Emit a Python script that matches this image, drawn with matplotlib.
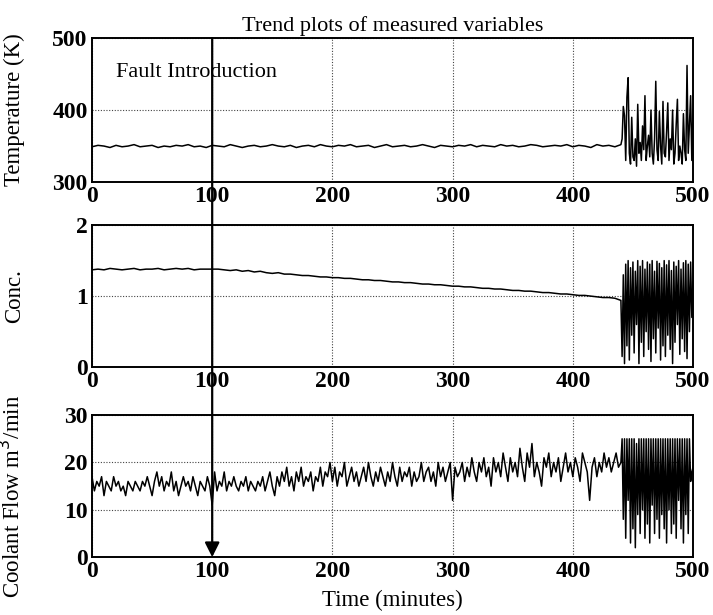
# Trend plots of measured variables: temperature, concentration, coolant flow

import numpy as np
import matplotlib.pyplot as plt

plt.rcParams['font.family'] = ['Liberation Serif', 'DejaVu Serif']

# --- data ---
# before the fault: every 5 min (temperature, conc.) / every 2 min (coolant)
# after the fault: every minute from 441 to 500
t_slow = np.arange(0, 441, 5)
t_cool = np.arange(0, 441, 2)
t_fault = np.arange(441, 501, 1)

temp_before = [
    349, 351, 350, 348, 351, 349, 350, 352, 349, 350, 351, 348, 350, 349, 351, 350, 352, 349, 350, 348,
    351, 350, 349, 352, 350, 348, 350, 351, 349, 350, 352, 350, 349, 351, 348, 350, 351, 349, 352, 350,
    349, 351, 350, 352, 349, 350, 351, 348, 350, 352, 349, 350, 351, 349, 350, 352, 350, 348, 351, 350,
    349, 351, 350, 352, 349, 351, 350, 349, 352, 350, 351, 349, 350, 352, 351, 349, 350, 351, 350, 352,
    349, 351, 350, 348, 352, 350, 351, 349, 352,
]
temp_after = [
    360, 405, 392, 330, 418, 445, 340, 325, 390, 335, 330, 360, 322, 408, 340, 355, 330, 378, 345, 420,
    330, 350, 365, 335, 400, 340, 325, 360, 440, 345, 330, 398, 350, 325, 412, 340, 335, 370, 410, 330,
    360, 345, 400, 325, 340, 380, 415, 330, 350, 340, 325, 395, 345, 330, 462, 340, 380, 420, 330, 400,
]

conc_before = [
    1.37, 1.38, 1.37, 1.39, 1.38, 1.37, 1.38, 1.39, 1.37, 1.38, 1.38, 1.39, 1.37, 1.38, 1.39, 1.38, 1.39, 1.37, 1.38, 1.38,
    1.38, 1.38, 1.37, 1.36, 1.37, 1.35, 1.36, 1.34, 1.35, 1.33, 1.32, 1.33, 1.31, 1.31, 1.30, 1.29, 1.29, 1.28, 1.27, 1.27,
    1.26, 1.26, 1.25, 1.25, 1.24, 1.23, 1.23, 1.22, 1.22, 1.21, 1.20, 1.20, 1.19, 1.19, 1.18, 1.17, 1.17, 1.16, 1.16, 1.15,
    1.14, 1.14, 1.13, 1.13, 1.12, 1.11, 1.11, 1.10, 1.10, 1.09, 1.08, 1.08, 1.07, 1.07, 1.06, 1.05, 1.05, 1.04, 1.03, 1.03,
    1.02, 1.01, 1.01, 1.00, 0.99, 0.98, 0.98, 0.97, 0.94,
]
conc_after = [
    0.15, 1.30, 0.05, 1.45, 0.30, 1.50, 0.10, 1.40, 0.45, 1.48, 0.20, 1.35, 0.60, 1.50, 0.05, 1.42, 0.35, 1.50, 0.15, 1.38,
    0.50, 1.48, 0.25, 1.45, 0.08, 1.50, 0.40, 1.35, 0.20, 1.49, 0.55, 1.46, 0.10, 1.40, 0.30, 1.50, 0.15, 1.44, 0.45, 1.50,
    0.25, 1.36, 0.05, 1.48, 0.35, 1.42, 0.60, 1.50, 0.18, 1.38, 0.40, 1.47, 0.22, 1.50, 0.12, 1.45, 0.50, 1.48, 0.70, 1.20,
]

cool_before = [
    17, 14, 16, 15, 17, 13, 16, 15, 14, 17, 15, 16, 14, 15, 13, 16, 15, 14, 16, 15,
    14, 16, 15, 17, 15, 13, 16, 18, 15, 17, 14, 16, 15, 18, 14, 16, 13, 15, 17, 15,
    16, 14, 17, 15, 13, 16, 15, 14, 17, 15, 11, 18, 14, 16, 15, 18, 14, 16, 15, 17,
    15, 14, 16, 15, 17, 14, 16, 15, 14, 16, 15, 17, 14, 16, 18, 15, 13, 17, 15, 18,
    16, 19, 15, 17, 14, 18, 16, 19, 15, 17, 16, 18, 14, 17, 16, 19, 15, 18, 17, 20,
    16, 19, 15, 18, 17, 20, 15, 17, 19, 16, 18, 15, 17, 19, 16, 20, 17, 15, 18, 16,
    19, 17, 15, 18, 16, 20, 17, 15, 19, 16, 18, 17, 19, 15, 18, 16, 17, 20, 16, 18,
    19, 16, 18, 15, 20, 17, 19, 16, 18, 20, 12, 19, 17, 18, 20, 16, 19, 17, 21, 18,
    16, 20, 18, 21, 17, 19, 15, 21, 18, 20, 17, 22, 19, 16, 21, 18, 20, 17, 23, 19,
    16, 22, 19, 24, 17, 20, 18, 15, 21, 19, 22, 17, 20, 18, 21, 16, 19, 22, 18, 20,
    17, 21, 19, 16, 22, 20, 18, 12, 19, 21, 17, 20, 18, 22, 19, 21, 18, 20, 22, 19,
    20,
]
cool_after = [
    25, 8, 25, 4, 25, 12, 25, 3, 25, 6, 25, 2, 24, 9, 25, 5, 25, 10, 25, 4,
    25, 7, 25, 3, 25, 11, 25, 5, 25, 8, 25, 4, 25, 9, 25, 6, 25, 3, 25, 10,
    25, 5, 25, 7, 25, 4, 25, 12, 25, 6, 25, 3, 25, 9, 25, 5, 25, 16, 18, 19,
]

x_ticks = [0, 100, 200, 300, 400, 500]
fault_time = 100

fig = plt.figure(figsize=(7.13, 6.15), dpi=100)
ax1 = fig.add_axes([0.129, 0.704, 0.843, 0.234])
ax2 = fig.add_axes([0.129, 0.403, 0.843, 0.231])
ax3 = fig.add_axes([0.129, 0.094, 0.843, 0.231])

series = [
    (ax1, t_slow, temp_before, temp_after, (300, 500), [300, 400, 500], 'Temperature (K)', 0.5),
    (ax2, t_slow, conc_before, conc_after, (0, 2), [0, 1, 2], 'Conc.', 0.5),
    (ax3, t_cool, cool_before, cool_after, (0, 30), [0, 10, 20, 30], 'Coolant Flow m$^3$/min', 0.43),
]

for ax, t, before, after, ylim, yticks, ylabel, label_y in series:
    x = np.concatenate([t, t_fault])
    y = np.concatenate([before, after])
    ax.plot(x, y, color='black', lw=1.1)
    ax.set_xlim(0, 500)
    ax.set_ylim(*ylim)
    ax.set_xticks(x_ticks)
    ax.set_yticks(yticks)
    ax.grid(True, linestyle=(0, (1, 1.5)), color='#444444', lw=0.8)
    ax.tick_params(length=0, labelsize=17, pad=3)
    for lab in ax.get_xticklabels() + ax.get_yticklabels():
        lab.set_fontweight('bold')
    for sp in ax.spines.values():
        sp.set_linewidth(1.4)
    ax.set_ylabel(ylabel, fontsize=16.5)
    ax.yaxis.set_label_coords(-0.111, label_y)

ax1.set_title('Trend plots of measured variables', fontsize=16, pad=5)
ax1.text(20, 452, 'Fault Introduction', fontsize=16, va='center')
fig.text(0.55, 1 - 600 / 615, 'Time (minutes)', fontsize=16.5, ha='center', va='center')

# arrow marking when the fault is introduced
ax3.annotate('', xy=(fault_time, 0), xycoords=ax3.transData,
             xytext=(fault_time, 500), textcoords=ax1.transData,
             arrowprops=dict(arrowstyle='-|>', color='black', lw=1.6, mutation_scale=22,
                             shrinkA=0, shrinkB=0))

fig.savefig('out.png', dpi=100)
